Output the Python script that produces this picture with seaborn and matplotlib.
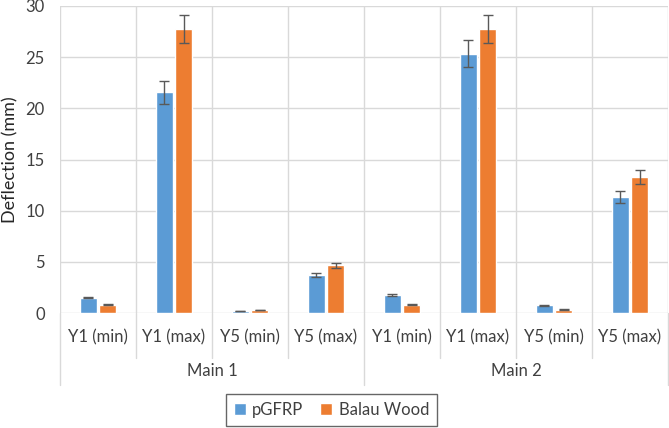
import matplotlib
matplotlib.use("Agg")
import matplotlib.pyplot as plt
import matplotlib.transforms as mtransforms
import seaborn as sns
import pandas as pd
import numpy as np

groups = ["Main 1", "Main 2"]
cases = ["Y1 (min)", "Y1 (max)", "Y5 (min)", "Y5 (max)"]
series = ["pGFRP", "Balau Wood"]
colors = ["#5B9BD5", "#ED7D31"]

pgfrp = [1.47, 21.56, 0.18, 3.70, 1.73, 25.34, 0.75, 11.34]
pgfrp_err = [0.05, 1.10, 0.02, 0.20, 0.08, 1.33, 0.05, 0.57]
balau = [0.81, 27.75, 0.28, 4.65, 0.82, 27.75, 0.33, 13.29]
balau_err = [0.04, 1.38, 0.03, 0.25, 0.04, 1.38, 0.05, 0.72]

keys = [g + "|" + c for g in groups for c in cases]
rows = []
for name, vals in zip(series, [pgfrp, balau]):
    for k, v in zip(keys, vals):
        rows.append({"key": k, "series": name, "value": v})
df = pd.DataFrame(rows)

sns.set_theme(style="white")
plt.rcParams["font.family"] = ["Lato", "DejaVu Sans"]
text_col = "#404040"
grid_col = "#D9D9D9"

fig = plt.figure(figsize=(6.69, 4.28), dpi=100)
ax = fig.add_axes([60 / 669, 115 / 428, 608 / 669, 307 / 428])

sns.barplot(data=df, x="key", y="value", hue="series", order=keys,
            hue_order=series, palette=colors, saturation=1,
            width=0.506, gap=0.1, errorbar=None, ax=ax, zorder=3)

# error bars on each bar
for container, errs in zip(ax.containers, [pgfrp_err, balau_err]):
    bars = sorted(container.patches, key=lambda b: b.get_x())
    xs = [b.get_x() + b.get_width() / 2 for b in bars]
    ys = [b.get_height() for b in bars]
    ax.errorbar(xs, ys, yerr=errs, fmt="none", ecolor="#595959",
                elinewidth=1, capsize=3.5, capthick=1, zorder=4)

ax.set_ylim(0, 30)
ax.set_xlim(-0.5, 7.5)
ax.set_yticks(range(0, 31, 5))
ax.yaxis.grid(True, color=grid_col, lw=1, zorder=0)
ax.set_axisbelow(True)
for x in np.arange(-0.5, 8, 1):
    ax.axvline(x, color=grid_col, lw=1, zorder=1)
for s in ax.spines.values():
    s.set_visible(False)

ax.set_xticks(range(len(keys)))
ax.set_xticklabels(cases * len(groups))
ax.tick_params(axis="both", length=0, labelcolor=text_col, labelsize=12)
ax.tick_params(axis="x", pad=12)
ax.tick_params(axis="y", pad=11)
ax.set_xlabel("")
ax.set_ylabel("Deflection (mm)", fontsize=13, color="#262626")
ax.yaxis.set_label_coords(-0.069, 0.5)

# multi-level category axis
trans = mtransforms.blended_transform_factory(ax.transData, ax.transAxes)
for x in np.arange(-0.5, 8, 1):
    bottom = -0.235 if x in (-0.5, 3.5, 7.5) else -0.147
    ax.plot([x, x], [0, bottom], transform=trans, clip_on=False,
            color=grid_col, lw=1)
for i, g in enumerate(groups):
    ax.text(1.5 + 4 * i, -0.19, g, transform=trans, ha="center", va="center",
            fontsize=12, color=text_col)

handles, labels = ax.get_legend_handles_labels()
if ax.get_legend() is not None:
    ax.get_legend().remove()
leg = fig.legend(handles, labels, loc="center", bbox_to_anchor=(0.4955, 0.042),
                 ncol=2, frameon=True, fancybox=False, fontsize=12,
                 handlelength=0.7, handleheight=0.7, handletextpad=0.4,
                 columnspacing=1.0, borderpad=0.5)
leg.get_frame().set_edgecolor("#404040")
leg.get_frame().set_linewidth(1)
for t in leg.get_texts():
    t.set_color(text_col)

fig.savefig("out.png", dpi=100)
